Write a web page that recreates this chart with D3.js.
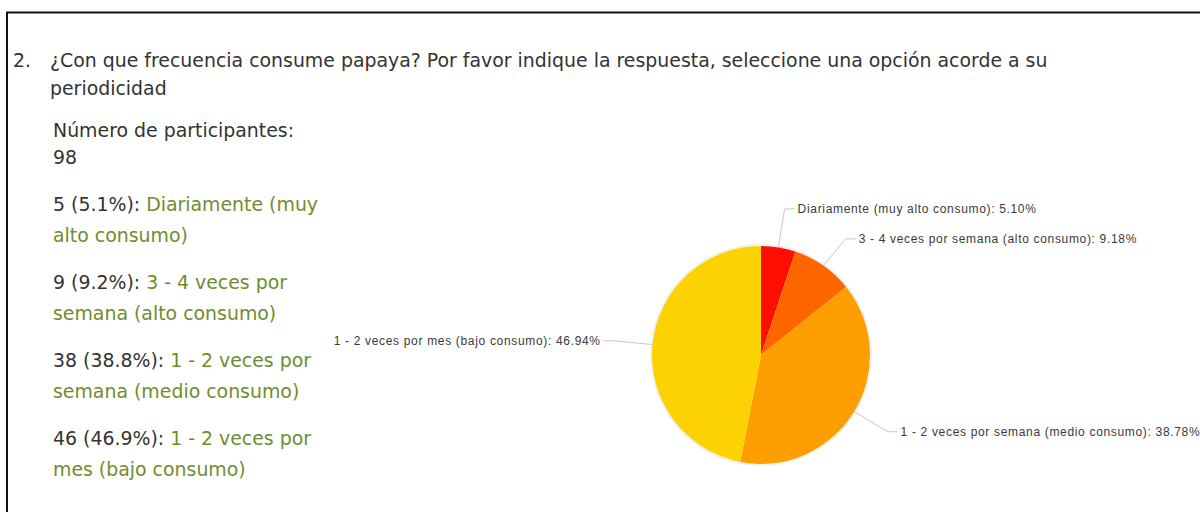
<!DOCTYPE html>
<html>
<head>
<meta charset="utf-8">
<script src="https://cdn.jsdelivr.net/npm/d3@7"></script>
<style>
  body { margin: 0; background: #fff; }
  svg { display: block; }
  .q { font-family: "DejaVu Sans", sans-serif; fill: #333; }
  .ans { fill: #6f8d2e; }
  .plabel { font-family: "Liberation Sans", Arial, sans-serif; font-size: 12px; fill: #3a3a3a; }
  .leader { fill: none; stroke: #c8c8c8; stroke-width: 1; }
</style>
</head>
<body>
<svg id="chart" width="1200" height="512"></svg>
<script>
var questionNumber = "2.";
var questionLines = ["¿Con que frecuencia consume papaya? Por favor indique la respuesta, seleccione una opción acorde a su", "periodicidad"];
var participantsLabel = "Número de participantes:";
var participants = 98;

var categories = [
  "Diariamente (muy alto consumo)",
  "3 - 4 veces por semana (alto consumo)",
  "1 - 2 veces por semana (medio consumo)",
  "1 - 2 veces por mes (bajo consumo)"
];
var counts = [5, 9, 38, 46];
var percents = [5.10, 9.18, 38.78, 46.94];
// wrapped answer text as shown in the left list
var answerLines = [
  ["Diariamente (muy", "alto consumo)"],
  ["3 - 4 veces por", "semana (alto consumo)"],
  ["1 - 2 veces por", "semana (medio consumo)"],
  ["1 - 2 veces por", "mes (bajo consumo)"]
];
var colors = ["#FF0F00", "#FF6600", "#FF9E01", "#FCD202"];

var svg = d3.select("#chart");
var width = 1200, height = 512;

// frame
svg.append("rect")
  .attr("x", 7).attr("y", 12.5)
  .attr("width", 1300).attr("height", 600)
  .attr("fill", "none").attr("stroke", "#111").attr("stroke-width", 2);

// question text
var qg = svg.append("g").attr("class", "q");
var fs = 15.5;
qg.append("text").attr("x", 13).attr("y", 67).attr("font-size", fs).text(questionNumber);
var t1 = qg.append("text").attr("x", 50).attr("y", 67).attr("font-size", fs).text(questionLines[0]);
// scale font to match reference line width
var w1 = t1.node().getComputedTextLength();
fs = fs * 998 / w1;
qg.selectAll("text").attr("font-size", fs);
qg.append("text").attr("x", 50).attr("y", 95).attr("font-size", fs).text(questionLines[1]);

qg.append("text").attr("x", 53).attr("y", 137).attr("font-size", fs).text(participantsLabel);
qg.append("text").attr("x", 53).attr("y", 164).attr("font-size", fs).text(participants);

var pctFmt = d3.format(".1f");
var rowY = d3.scaleLinear().domain([0, 1]).range([211, 289]);
categories.forEach(function (c, i) {
  var y0 = rowY(i);
  var t = qg.append("text").attr("x", 53).attr("y", y0).attr("font-size", fs);
  t.append("tspan").text(counts[i] + " (" + pctFmt(counts[i] / participants * 100) + "%): ");
  t.append("tspan").attr("class", "ans").text(answerLines[i][0]);
  qg.append("text").attr("class", "ans").attr("x", 53).attr("y", y0 + 31)
    .attr("font-size", fs).text(answerLines[i][1]);
});

// pie
var cx = 761, cy = 355, r = 109, elbowR = 148;
var pie = d3.pie().sort(null).value(function (d) { return d; });
var arcs = pie(percents);
var arc = d3.arc().innerRadius(0).outerRadius(r);

var pg = svg.append("g").attr("transform", "translate(" + cx + "," + cy + ")");
pg.append("circle").attr("r", r + 1).attr("fill", "none").attr("stroke", "#000").attr("stroke-opacity", 0.06).attr("stroke-width", 2);
pg.selectAll("path.slice")
  .data(arcs)
  .enter().append("path")
  .attr("class", "slice")
  .attr("d", arc)
  .attr("fill", function (d, i) { return colors[i]; });

// label layout
var labels = arcs.map(function (d, i) {
  var a = (d.startAngle + d.endAngle) / 2;
  return {
    i: i,
    a: a,
    sx: Math.sin(a) * r, sy: -Math.cos(a) * r,
    ex: Math.sin(a) * elbowR, ey: -Math.cos(a) * elbowR,
    right: Math.sin(a) >= 0
  };
});
// keep labels on the same side apart
[true, false].forEach(function (side) {
  var s = labels.filter(function (l) { return l.right === side; })
    .sort(function (a, b) { return a.ey - b.ey; });
  for (var k = 1; k < s.length; k++) {
    if (s[k].ey < s[k - 1].ey + 30) s[k].ey = s[k - 1].ey + 30;
  }
});

var labelText = labels.map(function (l) {
  var dir = l.right ? 1 : -1;
  var hx = l.ex + dir * 10;
  pg.append("path")
    .attr("class", "leader")
    .attr("d", "M" + l.sx + "," + l.sy + "L" + l.ex + "," + l.ey + "L" + hx + "," + l.ey);
  return pg.append("text")
    .attr("class", "plabel")
    .attr("x", hx + dir * 3)
    .attr("y", l.ey)
    .attr("dy", "0.35em")
    .attr("text-anchor", l.right ? "start" : "end")
    .text(categories[l.i] + ": " + d3.format(".2f")(percents[l.i]) + "%");
});
// widen label spacing a bit to match the reference's wide rendering
var ref = labelText[3].node();
var n = ref.textContent.length;
var ls = (267 - ref.getComputedTextLength()) / n;
pg.selectAll("text.plabel").attr("letter-spacing", ls > 0 ? ls : 0);
</script>
</body>
</html>
